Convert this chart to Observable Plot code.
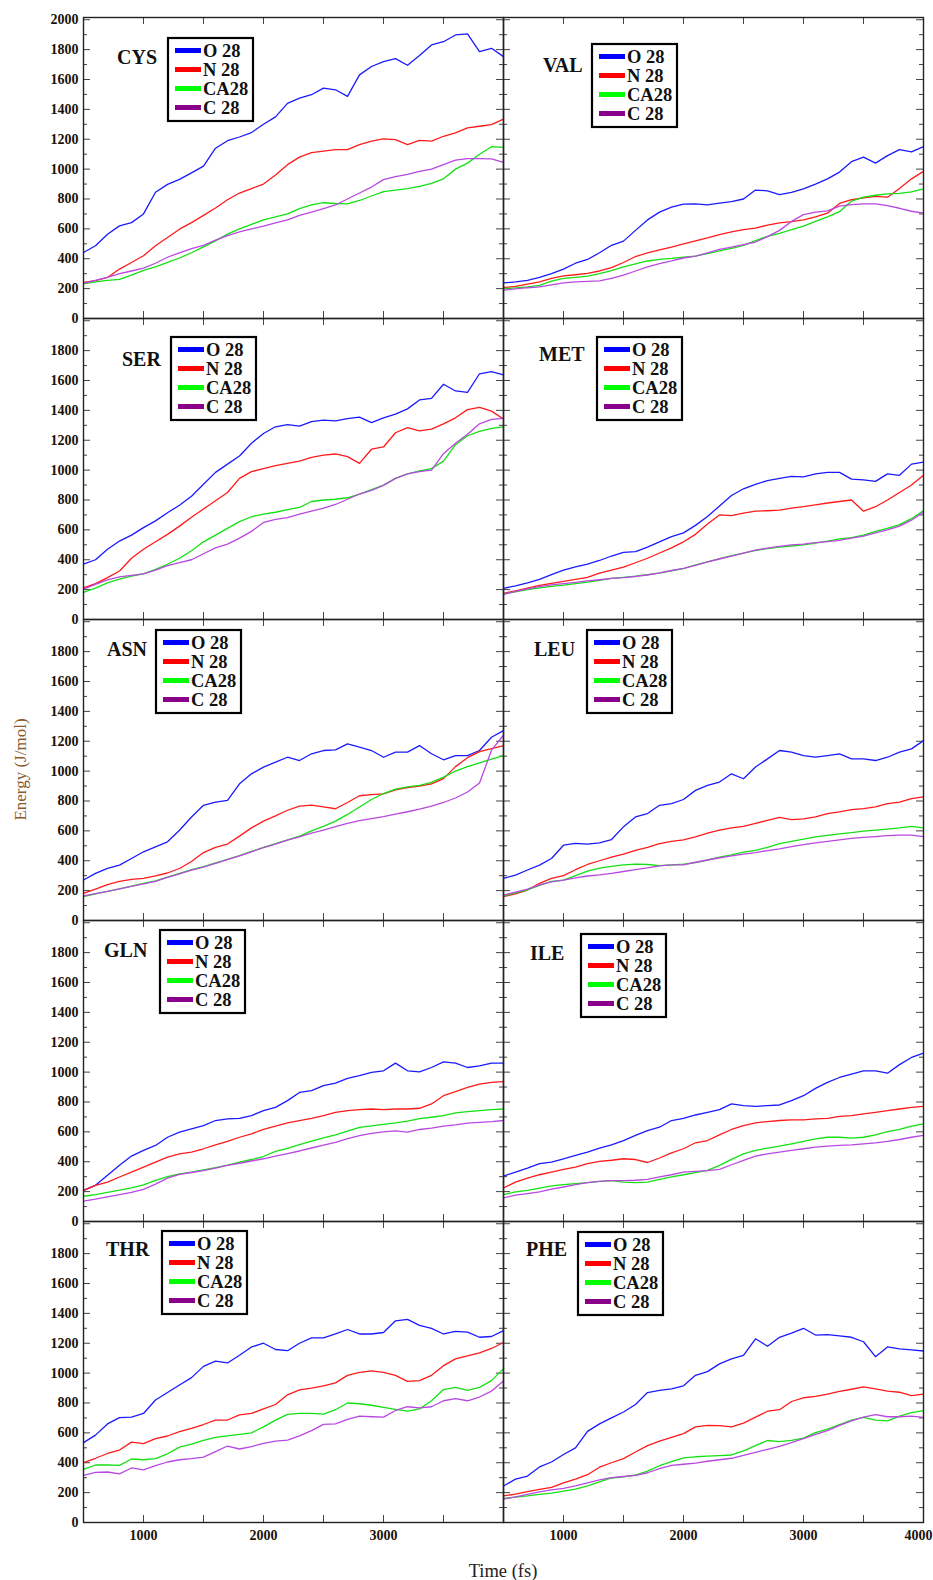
<!DOCTYPE html>
<html><head><meta charset="utf-8">
<script src="https://cdn.jsdelivr.net/npm/d3@7"></script>
<script src="https://cdn.jsdelivr.net/npm/@observablehq/plot@0.6"></script>
<style>
html,body{margin:0;padding:0;background:#fff;overflow:hidden;}
#chart svg{display:block;}
</style></head><body><div id="chart"></div>
<script>
// ---------- data ----------
const time = [500,600,700,800,900,1000,1100,1200,1300,1400,1500,1600,1700,1800,1900,2000,2100,2200,2300,2400,2500,2600,2700,2800,2900,3000,3100,3200,3300,3400,3500,3600,3700,3800,3900,4000];
const panels = ["CYS","VAL","SER","MET","ASN","LEU","GLN","ILE","THR","PHE"];
const seriesNames = ["O 28","N 28","CA28","C 28"];
const xTickLabels = [1000,2000,3000,4000];
const xTicks = [500,1000,1500,2000,2500,3000,3500,4000];
const yTickLabels = [0,200,400,600,800,1000,1200,1400,1600,1800,2000];
const yMinorTicks = [100,300,500,700,900,1100,1300,1500,1700,1900];

const cysO = [442,487,564,620,642,700,845,898,931,975,1020,1140,1190,1215,1245,1300,1350,1440,1475,1498,1542,1531,1487,1631,1687,1720,1740,1695,1760,1831,1853,1898,1905,1787,1809,1753];
const cysN = [242,253,275,331,375,420,487,542,598,642,690,740,795,840,870,900,960,1030,1080,1110,1120,1131,1131,1164,1187,1202,1198,1164,1193,1187,1220,1242,1276,1287,1298,1335];
const cysCA = [232,245,255,262,290,322,345,375,405,440,480,520,565,600,630,660,680,700,735,760,775,770,768,790,820,850,860,870,885,905,935,1000,1040,1100,1150,1145];
const cysC = [236,255,275,300,318,337,370,410,440,468,490,525,555,580,600,618,640,660,690,712,735,760,800,840,880,930,950,965,985,1000,1030,1060,1070,1070,1068,1045];

const valO = [238,245,255,275,300,330,370,395,440,490,518,590,660,712,745,765,768,760,772,782,800,860,855,830,845,868,900,935,980,1050,1080,1040,1090,1130,1115,1150];
const valN = [207,215,230,245,268,285,293,302,318,340,375,415,440,460,478,500,520,540,562,580,595,605,625,640,648,660,680,705,770,795,808,818,812,870,935,985];
const valCA = [200,205,212,222,250,268,275,283,300,320,345,365,385,396,402,410,418,435,452,470,490,522,550,570,595,618,650,680,715,785,812,825,834,838,848,868];
const valC = [190,198,206,212,225,238,245,248,252,268,290,318,345,368,385,405,418,440,462,478,495,512,548,590,650,695,712,720,752,762,768,768,755,738,718,705];

const serO = [371,400,470,525,565,615,660,715,765,825,905,985,1040,1095,1180,1245,1290,1305,1295,1325,1335,1330,1345,1355,1318,1350,1375,1410,1470,1480,1575,1530,1520,1645,1660,1638];
const serN = [211,240,280,325,410,470,520,570,625,685,740,795,850,945,990,1010,1030,1045,1060,1085,1100,1108,1090,1045,1140,1155,1250,1285,1262,1275,1310,1350,1405,1420,1395,1342];
const serCA = [182,210,245,270,290,305,335,370,410,460,520,565,610,655,688,705,718,735,750,790,800,805,815,840,870,900,945,975,995,1010,1060,1170,1230,1260,1280,1290];
const serC = [204,235,265,285,295,305,330,360,380,400,440,480,505,545,590,650,670,682,705,725,745,770,805,840,865,898,945,975,990,1000,1110,1180,1240,1310,1340,1346];

const metO = [209,225,245,268,300,330,352,370,395,425,450,455,485,520,555,580,630,690,760,830,875,905,930,945,958,955,975,985,985,940,935,925,975,965,1040,1053];
const metN = [175,192,210,228,242,255,268,282,310,330,350,380,410,445,480,520,570,640,700,695,712,725,728,732,745,755,768,780,790,800,725,755,800,850,900,965];
const metCA = [171,185,200,212,222,230,240,250,262,275,282,290,300,310,325,340,365,385,408,428,445,462,475,485,492,500,512,525,540,548,565,590,610,635,675,730];
const metC = [168,188,205,220,232,240,248,258,266,275,280,288,298,312,328,342,362,385,405,425,445,465,478,490,500,505,515,522,530,545,558,580,600,625,665,720];

const asnO = [271,315,349,371,415,460,493,527,604,693,771,793,804,915,982,1027,1060,1093,1071,1116,1138,1142,1182,1160,1138,1093,1127,1127,1171,1116,1076,1104,1104,1138,1227,1271];
const asnN = [182,210,240,262,275,282,298,318,348,395,455,490,512,565,620,665,700,738,765,772,760,748,790,835,842,848,875,890,900,915,950,1030,1090,1130,1150,1171];
const asnCA = [160,178,195,212,230,248,265,290,315,340,360,385,410,435,462,490,515,540,565,600,630,665,710,760,810,850,880,895,905,925,960,1000,1030,1055,1080,1104];
const asnC = [165,180,195,212,228,245,262,288,312,338,358,382,408,432,460,488,512,538,560,585,605,628,650,668,682,695,712,728,745,765,790,820,860,920,1140,1240];

const leuO = [282,304,338,371,415,504,516,511,520,542,627,693,716,771,782,810,871,904,927,982,949,1027,1082,1138,1127,1104,1093,1104,1116,1082,1082,1071,1093,1127,1149,1204];
const leuN = [160,178,204,249,282,300,340,375,400,425,445,470,490,515,530,540,560,585,605,620,630,650,670,690,675,680,693,716,727,742,749,760,782,793,816,827];
const leuCA = [165,185,205,235,262,270,300,330,350,362,372,378,375,368,372,378,388,405,425,440,458,470,490,515,530,545,560,570,580,588,598,605,612,620,630,620];
const leuC = [170,190,210,238,258,270,285,298,305,315,328,340,352,365,372,372,390,405,420,432,445,455,468,480,495,508,520,530,540,550,556,562,568,572,572,562];

const glnO = [209,242,309,376,438,476,509,564,598,620,642,676,687,691,709,742,764,809,864,876,909,927,958,976,998,1009,1060,1009,1002,1031,1069,1060,1031,1042,1060,1060];
const glnN = [209,242,264,298,331,364,398,431,453,464,487,513,536,564,587,616,638,660,676,691,709,731,742,749,753,749,753,753,758,787,842,869,898,920,931,936];
const glnCA = [169,180,195,210,225,245,275,300,318,330,345,360,378,398,415,435,470,490,515,538,560,580,605,630,640,650,660,672,688,698,709,727,735,742,749,753];
const glnC = [136,150,165,180,195,215,250,290,315,328,340,358,375,390,405,420,438,455,472,492,512,530,555,575,590,600,607,598,616,625,638,647,658,664,669,676];

const ileO = [304,331,358,387,398,420,442,464,491,513,542,576,609,631,676,691,713,731,749,787,776,771,776,780,809,842,891,931,964,987,1009,1009,993,1050,1098,1127];
const ileN = [224,264,291,313,331,349,364,387,402,410,420,415,395,425,460,487,527,542,580,616,642,660,669,676,680,680,687,691,704,709,720,731,742,753,764,771];
const ileCA = [180,198,209,224,238,247,253,260,269,273,264,260,264,282,298,313,327,342,376,416,453,476,491,504,520,536,553,564,564,558,564,580,602,616,638,653];
const ileC = [158,176,187,198,216,231,247,260,269,273,273,276,282,298,313,331,336,340,349,380,409,438,453,464,476,487,498,504,509,513,520,527,536,549,564,576];

const thrO = [535,585,660,702,705,730,820,870,920,970,1045,1080,1068,1120,1175,1200,1158,1150,1200,1236,1236,1262,1292,1262,1262,1272,1350,1360,1320,1300,1262,1280,1275,1240,1245,1285];
const thrN = [401,430,462,485,538,528,562,579,608,630,656,685,686,720,730,760,790,855,888,900,915,935,985,1005,1015,1005,985,945,950,985,1050,1095,1115,1135,1165,1205];
const thrCA = [356,385,385,382,425,420,428,460,505,525,550,570,580,590,600,640,685,724,730,730,726,755,800,795,785,770,758,745,760,815,890,905,885,905,950,1030];
const thrC = [316,335,338,325,365,352,380,405,420,428,438,475,512,492,508,530,545,552,580,615,657,660,690,712,708,705,750,775,768,775,815,830,815,840,880,947];

const pheO = [244,290,311,372,405,455,500,610,660,700,740,790,870,885,895,915,985,1010,1062,1095,1118,1230,1180,1240,1268,1300,1255,1258,1250,1240,1210,1110,1175,1162,1155,1148];
const pheN = [178,190,207,222,235,265,290,320,370,400,428,472,515,545,570,595,640,650,648,640,665,705,745,755,810,835,845,860,878,892,908,895,880,872,850,860];
const pheCA = [162,170,178,188,196,210,224,245,272,298,306,318,344,380,408,432,440,444,448,452,480,515,549,542,550,565,602,625,655,685,704,685,680,712,735,749];
const pheC = [156,172,189,205,218,229,245,265,285,300,308,315,333,360,382,390,398,410,420,430,450,470,490,510,535,562,590,615,650,680,705,722,708,708,712,704];

// ---------- layout / style ----------
const panelSeries = {
  CYS:[cysO,cysN,cysCA,cysC], VAL:[valO,valN,valCA,valC], SER:[serO,serN,serCA,serC], MET:[metO,metN,metCA,metC],
  ASN:[asnO,asnN,asnCA,asnC], LEU:[leuO,leuN,leuCA,leuC], GLN:[glnO,glnN,glnCA,glnC], ILE:[ileO,ileN,ileCA,ileC],
  THR:[thrO,thrN,thrCA,thrC], PHE:[pheO,pheN,pheCA,pheC]
};
const lineColors = ["#1a1aff","#ff1a1a","#14e014","#b848e0"];
const swatchColors = ["#0000ff","#ff0000","#00ff00","#8b008b"];
const labelPos = {CYS:[34,40],VAL:[40,48],SER:[39,41],MET:[36,36],ASN:[24,30],LEU:[31,30],GLN:[21,30],ILE:[27,33],THR:[23,28],PHE:[23,28]};
const legendPos = {CYS:[85,21],VAL:[89,27],SER:[88,19],MET:[94,19],ASN:[73,11],LEU:[84,11],GLN:[77,10],ILE:[78,14],THR:[79,10],PHE:[75,11]};
const SERIF = "'Liberation Serif','DejaVu Serif',serif";
const W = 933, H = 1580, ML = 83, MR = 10, MT = 17, MB = 58;
const FW = (W - ML - MR) / 2, FH = (H - MT - MB) / 5;
const colOf = i => i % 2 ? "R" : "L";
const rowOf = i => Math.floor(i / 2) + 1;

const table = panels.flatMap((p, pi) => panelSeries[p].flatMap((vals, si) =>
  vals.map((v, i) => ({panel: p, col: colOf(pi), row: rowOf(pi), series: seriesNames[si], t: time[i], e: v}))));

const yLabelData = [1,2,3,4,5].flatMap(r => yTickLabels.filter(v => r === 1 || v < 2000).map(v => ({col: "L", row: r, v})));
const xLabelData = ["L","R"].flatMap(c => xTickLabels.filter(v => v < 4000).map(v => ({col: c, row: 5, v})));
const xLastLabel = xTickLabels.filter(v => v === 4000).map(v => ({col: "R", row: 5, v}));
const yMajor = yTickLabels;
const labelStyle = {fontSize: 14, fontWeight: "bold", fontFamily: SERIF, fill: "#1a1208"};

const tickStroke = "#444";
const plot = Plot.plot({
  width: W, height: H,
  marginLeft: ML, marginRight: MR, marginTop: MT, marginBottom: MB,
  style: {background: "white", fontFamily: SERIF, overflow: "visible"},
  x: {domain: [500, 4000], axis: null},
  y: {domain: [0, 2015], axis: null},
  fx: {domain: ["L","R"], padding: 0, axis: null},
  fy: {domain: [1,2,3,4,5], padding: 0, axis: null},
  color: {domain: seriesNames, range: lineColors},
  marks: [
    Plot.ruleX(xTicks, {x: d => d, insetTop: FH - 7, stroke: tickStroke}),
    Plot.ruleX(xTicks, {x: d => d, insetBottom: FH - 7, stroke: tickStroke}),
    Plot.ruleY(yMajor, {y: d => d, insetRight: FW - 7, stroke: tickStroke}),
    Plot.ruleY(yMajor, {y: d => d, insetLeft: FW - 7, stroke: tickStroke}),
    Plot.ruleY(yMinorTicks, {y: d => d, insetRight: FW - 4, stroke: tickStroke}),
    Plot.ruleY(yMinorTicks, {y: d => d, insetLeft: FW - 4, stroke: tickStroke}),
    Plot.lineY(table, {x: "t", y: "e", z: "series", stroke: "series", fx: "col", fy: "row", strokeWidth: 1.3}),
    Plot.frame({stroke: "#222", strokeWidth: 1.4}),
    Plot.text(yLabelData, {fx: "col", fy: "row", y: "v", text: d => String(d.v), frameAnchor: "left", textAnchor: "end", dx: -5, ...labelStyle}),
    Plot.text(xLabelData, {fx: "col", fy: "row", x: "v", text: d => String(d.v), frameAnchor: "bottom", lineAnchor: "top", dy: 8, ...labelStyle}),
    Plot.text(xLastLabel, {fx: "col", fy: "row", x: "v", text: d => String(d.v), frameAnchor: "bottom", lineAnchor: "top", dy: 8,
      textAnchor: "end", dx: 9, ...labelStyle})
  ]
});
document.getElementById("chart").appendChild(plot);

// ---------- annotations: panel names, legends, axis titles ----------
const svg = d3.select(plot);
let fxs = null, fys = null;
try { fxs = plot.scale("fx"); fys = plot.scale("fy"); } catch (e) {}
const colX = c => (fxs && fxs.apply ? fxs.apply(c) : (c === "L" ? ML : ML + FW));
const rowY = r => (fys && fys.apply ? fys.apply(r) : MT + (r - 1) * FH);
const ann = svg.append("g").attr("font-family", SERIF).attr("text-anchor", "start");
panels.forEach((p, pi) => {
  const x0 = colX(colOf(pi)), y0 = rowY(rowOf(pi));
  ann.append("text").attr("x", x0 + labelPos[p][0]).attr("y", y0 + labelPos[p][1]).attr("dy", "0.35em")
    .attr("text-anchor", "start").attr("font-size", 20).attr("font-weight", "bold").attr("fill", "#111").text(p);
  const g = ann.append("g").attr("transform", `translate(${x0 + legendPos[p][0]},${y0 + legendPos[p][1]})`);
  g.append("rect").attr("width", 85).attr("height", 83).attr("fill", "white").attr("stroke", "#000").attr("stroke-width", 2.2);
  seriesNames.forEach((s, i) => {
    const cy = 12.5 + i * 19;
    g.append("line").attr("x1", 7).attr("x2", 33).attr("y1", cy).attr("y2", cy).attr("stroke", swatchColors[i]).attr("stroke-width", 5);
    g.append("text").attr("x", 35).attr("y", cy).attr("dy", "0.35em").attr("text-anchor", "start")
      .attr("font-size", 18.5).attr("font-weight", "bold").attr("fill", "#111").text(s);
  });
});
ann.append("text").attr("transform", `translate(20,${MT + 2.5 * FH}) rotate(-90)`).attr("text-anchor", "middle").attr("dy", "0.35em")
  .attr("font-size", 17).attr("fill", "#8a5a2a").text("Energy (J/mol)");
ann.append("text").attr("x", ML + FW).attr("y", 1571).attr("text-anchor", "middle").attr("dy", "0.35em")
  .attr("font-size", 18.5).attr("fill", "#222").text("Time (fs)");
</script></body></html>
